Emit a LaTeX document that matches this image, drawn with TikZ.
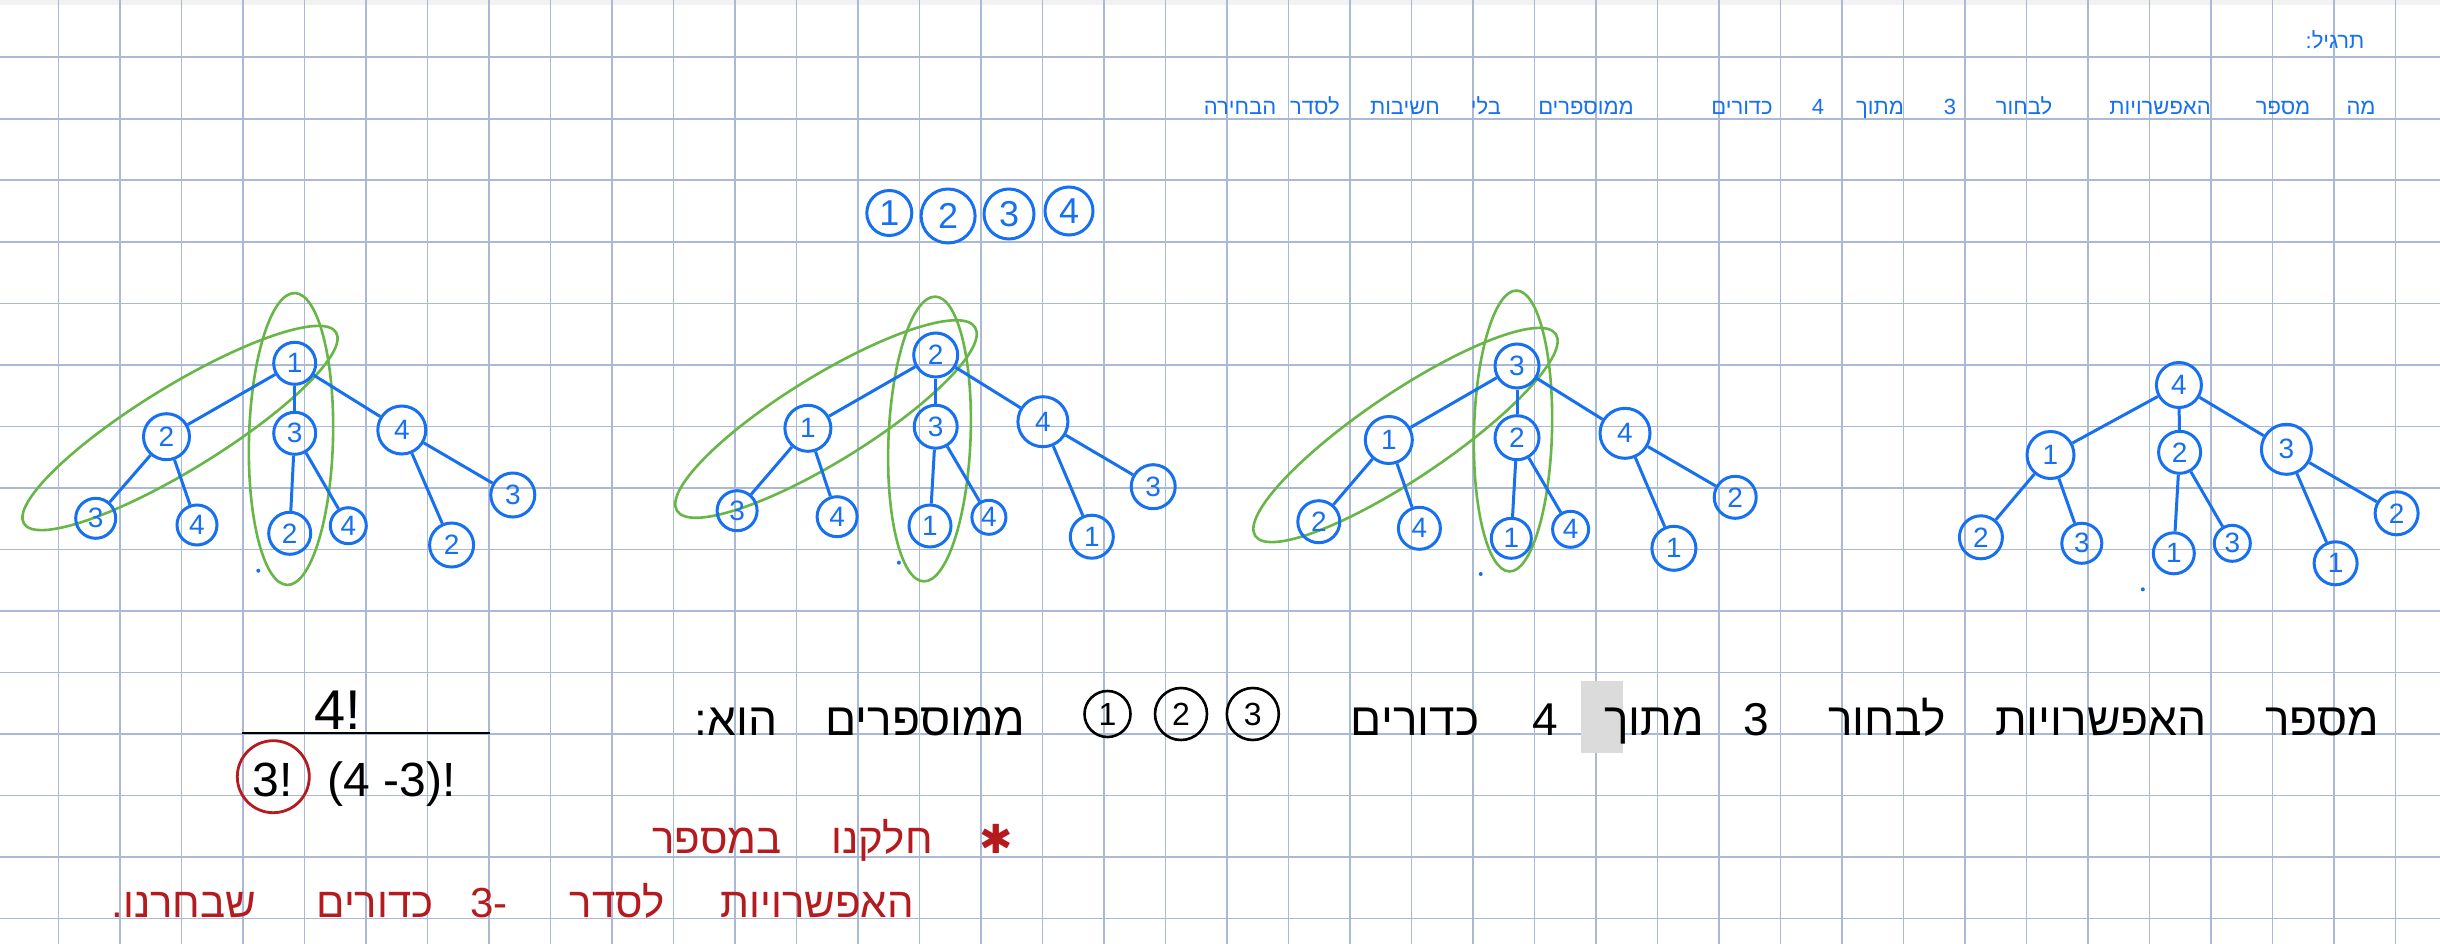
\documentclass[tikz,border=0pt]{standalone}
\usepackage{fontspec}
\setmainfont{Liberation Sans}[Script=Latin]
\newfontfamily\hebf[Script=Hebrew]{Liberation Sans}
\newfontfamily\djv{DejaVu Sans}
\TeXXeTstate=1
\newcommand{\HB}[1]{{\hebf\beginR #1\endR}}
\newcommand{\LT}[1]{{\beginL #1\endL}}
\definecolor{gridc}{RGB}{170,186,214}
\definecolor{blu}{RGB}{22,112,240}
\definecolor{grn}{RGB}{104,182,72}
\definecolor{redc}{RGB}{180,26,30}
\tikzset{
  gridl/.style={draw=gridc, line width=1.6pt},
  bn/.style={circle, draw=blu, line width=3pt, text=blu, inner sep=0pt, minimum size=#1, font=\fontsize{28}{28}\selectfont},
  bn/.default=42pt,
  bt/.style={circle, draw=blu, line width=3pt, text=blu, inner sep=0pt, minimum size=#1, font=\fontsize{36}{36}\selectfont},
  be/.style={draw=blu, line width=3pt},
  grnl/.style={draw=grn, line width=2.6pt},
  btxt/.style={text=blu, anchor=base, inner sep=0pt, font=\fontsize{22}{22}\selectfont},
  ktxt/.style={text=black, anchor=base, inner sep=0pt, font=\fontsize{46}{46}\selectfont},
  rtxt/.style={text=redc, anchor=base, inner sep=0pt, font=\fontsize{42}{42}\selectfont},
  kc/.style={circle, draw=black, line width=2.6pt, inner sep=0pt, minimum size=#1, font=\fontsize{32}{32}\selectfont},
  dotm/.style={fill=#1, circle, inner sep=0pt, minimum size=4pt},
}
\begin{document}
\begin{tikzpicture}[x=1pt, y=-1pt]
\useasboundingbox (0,0) rectangle (2440,944);
\fill[white] (0,0) rectangle (2440,944);
\fill[black!5] (0,0) rectangle (2440,5);
% grid
\foreach \i in {0,...,38} \draw[gridl] ({58.3+61.5*\i},0) -- ({58.3+61.5*\i},944);
\foreach \j in {0,...,14} \draw[gridl] (0,{57.3+61.5*\j}) -- (2440,{57.3+61.5*\j});

% ---------- header (blue) ----------
\node[btxt] (hdr) at (2335,49) {\HB{תרגיל:}};
\node[btxt] (q1) at (2361,115) {\HB{מה}};
\node[btxt] (q2) at (2283,115) {\HB{מספר}};
\node[btxt] (q3) at (2160,115) {\HB{האפשרויות}};
\node[btxt] (q4) at (2024,115) {\HB{לבחור}};
\node[btxt] (q5) at (1950,115) {\LT{3}};
\node[btxt] (q6) at (1880,115) {\HB{מתוך}};
\node[btxt] (q7) at (1818,115) {\LT{4}};
\node[btxt] (q8) at (1742,115) {\HB{כדורים}};
\node[btxt] (q9) at (1586,115) {\HB{ממוספרים}};
\node[btxt] (q10) at (1486,115) {\HB{בלי}};
\node[btxt] (q11) at (1405,115) {\HB{חשיבות}};
\node[btxt] (q12) at (1315,115) {\HB{לסדר}};
\node[btxt] (q13) at (1240,115) {\HB{הבחירה}};

% ---------- balls 1 2 3 4 ----------
\node[bt=45pt] (t1) at (889.3,213) {1};
\node[bt=54pt] (t2) at (948.1,216) {2};
\node[bt=50pt] (t3) at (1009,214) {3};
\node[bt=48pt] (t4) at (1069,211) {4};

% ---------- tree 1 ----------
\draw[grnl, rotate around={31.5:(180,428)}] (180,428) ellipse [x radius=183pt, y radius=42pt];
\draw[grnl, rotate around={-1.5:(291,439)}] (291,439) ellipse [x radius=42pt, y radius=146pt];
\node[bn=42pt] (a1) at (294.7,363.3) {1};
\node[bn=46pt] (a2) at (166.5,436.7) {2};
\node[bn=42pt] (a3) at (294.7,433.3) {3};
\node[bn=48pt] (a4) at (401.8,430) {4};
\node[bn=40pt] (a23) at (95.7,518.3) {3};
\node[bn=40pt] (a24) at (197,525) {4};
\node[bn=42pt] (a32) at (289.7,533.3) {2};
\node[bn=36pt] (a34) at (348.3,525.7) {4};
\node[bn=44pt] (a42) at (451.6,545) {2};
\node[bn=44pt] (a43) at (512.8,495) {3};
\draw[be] (a1) -- (a2); \draw[be] (a1) -- (a3); \draw[be] (a1) -- (a4);
\draw[be] (a2) -- (a23); \draw[be] (a2) -- (a24);
\draw[be] (a3) -- (a32); \draw[be] (a3) -- (a34);
\draw[be] (a4) -- (a42); \draw[be] (a4) -- (a43);
\node[dotm=blu] (da) at (258.3,570.7) {};

% ---------- tree 2 ----------
\draw[grnl, rotate around={31.6:(826,419)}] (826,419) ellipse [x radius=175pt, y radius=43pt];
\draw[grnl, rotate around={-2.4:(929.5,439)}] (929.5,439) ellipse [x radius=41pt, y radius=142.5pt];
\node[bn=44pt] (b1) at (935.7,355) {2};
\node[bn=46pt] (b2) at (807.9,428.3) {1};
\node[bn=43pt] (b3) at (935.7,426.7) {3};
\node[bn=50pt] (b4) at (1042.9,421.7) {4};
\node[bn=40pt] (b23) at (737.1,510.7) {3};
\node[bn=40pt] (b24) at (837.1,516.7) {4};
\node[bn=42pt] (b31) at (930,526) {1};
\node[bn=34pt] (b34) at (988.9,517.3) {4};
\node[bn=43pt] (b41) at (1091.8,536.7) {1};
\node[bn=44pt] (b43) at (1153.2,486.7) {3};
\draw[be] (b1) -- (b2); \draw[be] (b1) -- (b3); \draw[be] (b1) -- (b4);
\draw[be] (b2) -- (b23); \draw[be] (b2) -- (b24);
\draw[be] (b3) -- (b31); \draw[be] (b3) -- (b34);
\draw[be] (b4) -- (b41); \draw[be] (b4) -- (b43);
\node[dotm=blu] (db) at (898.9,562.7) {};

% ---------- tree 3 ----------
\draw[grnl, rotate around={33.9:(1405.5,435)}] (1405.5,435) ellipse [x radius=181pt, y radius=43pt];
\draw[grnl, rotate around={-1.5:(1513,431)}] (1513,431) ellipse [x radius=39pt, y radius=140.5pt];
\node[bn=44pt] (c1) at (1517,366) {3};
\node[bn=47pt] (c2) at (1388.8,440) {1};
\node[bn=44pt] (c3) at (1517,437.7) {2};
\node[bn=50pt] (c4) at (1625,433.3) {4};
\node[bn=42pt] (c21) at (1318.8,521.7) {2};
\node[bn=42pt] (c24) at (1419.4,528.3) {4};
\node[bn=40pt] (c31) at (1511.3,538.3) {1};
\node[bn=36pt] (c34) at (1570.6,529.3) {4};
\node[bn=44pt] (c41) at (1673.9,548.3) {1};
\node[bn=42pt] (c42) at (1735.2,497.3) {2};
\draw[be] (c1) -- (c2); \draw[be] (c1) -- (c3); \draw[be] (c1) -- (c4);
\draw[be] (c2) -- (c21); \draw[be] (c2) -- (c24);
\draw[be] (c3) -- (c31); \draw[be] (c3) -- (c34);
\draw[be] (c4) -- (c41); \draw[be] (c4) -- (c42);
\node[dotm=blu] (dc) at (1480.7,574) {};

% ---------- tree 4 ----------
\node[bn=45pt] (d1) at (2178.9,385) {4};
\node[bn=47pt] (d2) at (2050.5,455) {1};
\node[bn=42pt] (d3) at (2179.6,452.3) {2};
\node[bn=50pt] (d4) at (2286.4,449.3) {3};
\node[bn=43pt] (d21) at (1980.9,537.3) {2};
\node[bn=40pt] (d23) at (2081.8,543.3) {3};
\node[bn=41pt] (d31) at (2173.8,553.3) {1};
\node[bn=36pt] (d33) at (2232.3,543.3) {3};
\node[bn=43pt] (d41) at (2335.6,563.3) {1};
\node[bn=43pt] (d42) at (2396.6,513.3) {2};
\draw[be] (d1) -- (d2); \draw[be] (d1) -- (d3); \draw[be] (d1) -- (d4);
\draw[be] (d2) -- (d21); \draw[be] (d2) -- (d23);
\draw[be] (d3) -- (d31); \draw[be] (d3) -- (d33);
\draw[be] (d4) -- (d41); \draw[be] (d4) -- (d42);
\node[dotm=blu] (dd) at (2142.8,589.3) {};

% ---------- fraction ----------
\node[text=black, anchor=base, inner sep=0pt, font=\fontsize{56}{56}\selectfont] (num) at (337.7,729) {\LT{4!}};
\draw[line width=2.2pt] (241.7,732.7) coordinate (bl) -- (490,732.7) coordinate (br);
\node[text=black, anchor=base, inner sep=0pt, font=\fontsize{48}{48}\selectfont] (d3f) at (272.5,796) {\LT{3!}};
\node[text=black, anchor=base, inner sep=0pt, font=\fontsize{48}{48}\selectfont] (dden) at (391.7,796) {\LT{(4 -3)!}};
\draw[draw=redc, line width=2.8pt] (273.3,776.7) circle [radius=36pt];

% ---------- black sentence ----------
\fill[black!14] (1581,681) rectangle (1623,753);
\node[ktxt] (s1) at (2322,735) {\HB{מספר}};
\node[ktxt] (s2) at (2101,735) {\HB{האפשרויות}};
\node[ktxt] (s3) at (1887,735) {\HB{לבחור}};
\node[ktxt] (s4) at (1756,735) {\LT{3}};
\node[ktxt] (s5) at (1654,735) {\HB{מתוך}};
\node[ktxt] (s6) at (1545,735) {\LT{4}};
\node[ktxt] (s7) at (1415,735) {\HB{כדורים}};
\node[kc=52pt] (k3) at (1252.8,714) {3};
\node[kc=52pt] (k2) at (1181,714) {2};
\node[kc=46pt] (k1) at (1107.5,714) {1};
\node[ktxt] (s8) at (925.5,735) {\HB{ממוספרים}};
\node[ktxt] (s9) at (736,735) {\HB{הוא:}};

% ---------- red note ----------
\node[text=redc, inner sep=0pt, font=\djv\bfseries\fontsize{40}{40}\selectfont] (star) at (996,839) {✱};
\node[rtxt] (r1) at (882,853) {\HB{חלקנו}};
\node[rtxt] (r2) at (717,853) {\HB{במספר}};
\node[rtxt] (r3) at (817,917) {\HB{האפשרויות}};
\node[rtxt] (r4) at (617,917) {\HB{לסדר}};
\node[rtxt] (r5) at (489,917) {\LT{3-}};
\node[rtxt] (r6) at (375,917) {\HB{כדורים}};
\node[rtxt] (r7) at (184,917) {\HB{שבחרנו.}};
\end{tikzpicture}
\end{document}
